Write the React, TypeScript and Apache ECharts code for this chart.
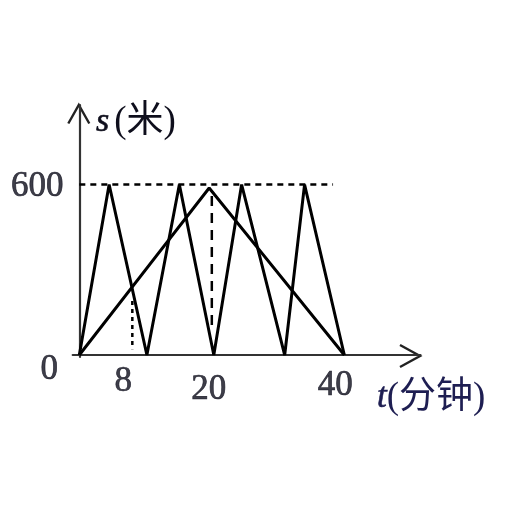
import React, { useEffect, useRef } from "react";
import * as echarts from "echarts";

// data
const runnerA: [number, number][] = [
  [0, 0], [4.5, 600], [10.2, 0], [15.1, 600], [20.3, 0], [24.5, 600], [31, 0], [34, 600], [40, 0],
];
const runnerB: [number, number][] = [[0, 0], [19.6, 588], [40, 0]];
const guide600: [number, number][] = [[0, 600], [38.3, 600]];
const guide20: [number, number][] = [[20, 560], [20, 90]];
const guide8: [number, number][] = [[8, 190], [8, 20]];
const xTicks = [8, 20, 40];
const yTicks = [600];

export default function App() {
  const ref = useRef<HTMLDivElement>(null);
  useEffect(() => {
    const chart = echarts.init(ref.current!, null, { renderer: "svg" });
    const font = "'Liberation Serif', 'Noto Sans CJK SC', serif";
    const txt = "#0e0e1c";
    const navy = "#1e1e52";
    const xOff: Record<number, [number, number]> = { 8: [-9, 24], 20: [-3, 32], 40: [-9, 28] };
    const labelData: any[] = [
      { value: [0, 0], name: "0", label: { offset: [-30, 12] } },
      ...yTicks.map((v) => ({ value: [0, v], name: String(v), label: { offset: [-42, 0] } })),
      ...xTicks.map((v) => ({ value: [v, 0], name: String(v), label: { offset: xOff[v] } })),
    ];
    const dashed = (data: [number, number][], dash: number[]) => ({
      type: "line",
      data,
      symbol: "none",
      lineStyle: { color: "#000", width: 2.5, type: dash },
      z: 1,
    });
    chart.setOption({
      animation: false,
      grid: { left: 72.7, right: 91.5, top: 105, bottom: 155 },
      xAxis: {
        type: "value",
        min: -1,
        max: 51.5,
        axisLine: { show: true, onZero: true, lineStyle: { color: "#333", width: 2.2 } },
        axisTick: { show: false },
        axisLabel: { show: false },
        splitLine: { show: false },
      },
      yAxis: {
        type: "value",
        min: -7,
        max: 880,
        axisLine: { show: true, onZero: true, lineStyle: { color: "#333", width: 2.2 } },
        axisTick: { show: false },
        axisLabel: { show: false },
        splitLine: { show: false },
      },
      series: [
        { type: "line", data: runnerA, symbol: "none", lineStyle: { color: "#000", width: 3 }, z: 3 },
        { type: "line", data: runnerB, symbol: "none", lineStyle: { color: "#000", width: 3 }, z: 3 },
        dashed(guide600, [6, 5]),
        dashed(guide20, [10, 7]),
        dashed(guide8, [4, 4]),
        {
          type: "scatter",
          data: labelData,
          symbolSize: 0,
          itemStyle: { color: txt },
          label: {
            show: true,
            position: "inside",
            formatter: (p: any) => p.name,
            fontFamily: font,
            fontSize: 35,
            color: txt,
            textBorderWidth: 0.7,
            textBorderColor: txt,
            align: "center",
            verticalAlign: "middle",
          },
          z: 5,
        },
      ],
      graphic: [
        {
          type: "polyline",
          shape: { points: [[68.3, 123.5], [78.8, 105], [89.3, 123.5]] },
          style: { stroke: "#222", lineWidth: 2.4, fill: null },
        },
        {
          type: "polyline",
          shape: { points: [[400, 345], [420, 356], [400, 367]] },
          style: { stroke: "#222", lineWidth: 2.4, fill: null },
        },
        {
          type: "text",
          x: 96,
          y: 119.5,
          style: {
            text: "{i|s}{n|(米)}",
            verticalAlign: "middle",
            rich: {
              i: { fontFamily: font, fontStyle: "italic", fontSize: 34, fill: txt, padding: [0, 5, 0, 0], stroke: txt, lineWidth: 0.6 },
              n: { fontFamily: font, fontSize: 37, fill: txt },
            },
          },
        },
        {
          type: "text",
          x: 377,
          y: 395,
          style: {
            text: "{i|t}{n|(分钟)}",
            verticalAlign: "middle",
            rich: {
              i: { fontFamily: font, fontStyle: "italic", fontSize: 35, fill: navy, stroke: navy, lineWidth: 0.6 },
              n: { fontFamily: font, fontSize: 37, fill: navy },
            },
          },
        },
      ],
    });
    return () => chart.dispose();
  }, []);
  return <div ref={ref} style={{ position: "fixed", left: 0, top: 0, width: 512, height: 512 }} />;
}
